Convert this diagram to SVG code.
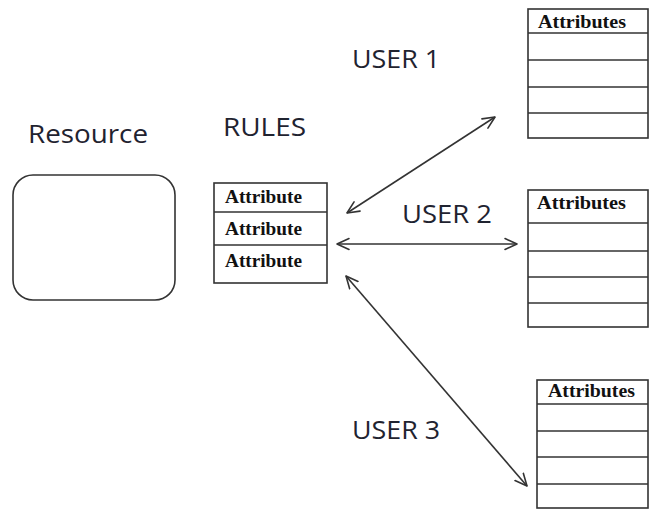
<svg xmlns="http://www.w3.org/2000/svg" width="649" height="509" viewBox="0 0 649 509">
  <style>
    .label { font-family: "Open Sans", "Noto Sans", "Liberation Sans", sans-serif; font-size: 25px; fill: #1f2330; }
    .cell { fill: #ffffff; stroke: #333333; stroke-width: 1.6; }
    .rule { stroke: #333333; stroke-width: 1.6; }
    .attr { font-family: "Liberation Serif", "DejaVu Serif", serif; font-weight: bold; font-size: 19px; fill: #111111; }
    .link { stroke: #333333; stroke-width: 1.6; fill: none; marker-start: url(#arrow); marker-end: url(#arrow); }
  </style>
  <defs>
    <marker id="arrow" viewBox="0 0 14 14" refX="13" refY="7" markerWidth="14" markerHeight="14" markerUnits="userSpaceOnUse" orient="auto-start-reverse">
      <path d="M1,1.5 L13,7 L1,12.5" fill="none" stroke="#333333" stroke-width="1.6" stroke-linecap="round" stroke-linejoin="round"/>
    </marker>
  </defs>
  <rect width="649" height="509" fill="#ffffff"/>

  <!-- resource node -->
  <g id="resource">
    <text class="label" x="28" y="143" textLength="120" lengthAdjust="spacingAndGlyphs">Resource</text>
    <rect x="13" y="175" width="162" height="125" rx="20" ry="20" class="cell"/>
  </g>

  <!-- rules table -->
  <g id="rules">
    <text class="label" x="223" y="136" textLength="83" lengthAdjust="spacingAndGlyphs">RULES</text>
    <rect x="214" y="183" width="113" height="100" class="cell"/>
    <line x1="214" y1="212" x2="327" y2="212" class="rule"/>
    <line x1="214" y1="245" x2="327" y2="245" class="rule"/>
    <text class="attr" x="225" y="203" textLength="77" lengthAdjust="spacingAndGlyphs">Attribute</text>
    <text class="attr" x="225" y="235" textLength="77" lengthAdjust="spacingAndGlyphs">Attribute</text>
    <text class="attr" x="225" y="267" textLength="77" lengthAdjust="spacingAndGlyphs">Attribute</text>
  </g>

  <!-- user 1 attribute table -->
  <g id="user1">
    <text class="label" x="352" y="68" textLength="88" lengthAdjust="spacingAndGlyphs">USER 1</text>
    <rect x="528" y="9" width="120" height="129" class="cell"/>
    <line x1="528" y1="33" x2="648" y2="33" class="rule"/>
    <line x1="528" y1="60" x2="648" y2="60" class="rule"/>
    <line x1="528" y1="87" x2="648" y2="87" class="rule"/>
    <line x1="528" y1="113" x2="648" y2="113" class="rule"/>
    <text class="attr" x="538" y="28" textLength="88" lengthAdjust="spacingAndGlyphs">Attributes</text>
  </g>

  <!-- user 2 attribute table -->
  <g id="user2">
    <text class="label" x="402" y="223" textLength="90" lengthAdjust="spacingAndGlyphs">USER 2</text>
    <rect x="528" y="190" width="120" height="137" class="cell"/>
    <line x1="528" y1="223" x2="648" y2="223" class="rule"/>
    <line x1="528" y1="251" x2="648" y2="251" class="rule"/>
    <line x1="528" y1="277" x2="648" y2="277" class="rule"/>
    <line x1="528" y1="303" x2="648" y2="303" class="rule"/>
    <text class="attr" x="537" y="209" textLength="89" lengthAdjust="spacingAndGlyphs">Attributes</text>
  </g>

  <!-- user 3 attribute table -->
  <g id="user3">
    <text class="label" x="352" y="439" textLength="88" lengthAdjust="spacingAndGlyphs">USER 3</text>
    <rect x="537" y="380" width="111" height="128" class="cell"/>
    <line x1="537" y1="404" x2="648" y2="404" class="rule"/>
    <line x1="537" y1="431" x2="648" y2="431" class="rule"/>
    <line x1="537" y1="457" x2="648" y2="457" class="rule"/>
    <line x1="537" y1="484" x2="648" y2="484" class="rule"/>
    <text class="attr" x="548" y="397" textLength="87" lengthAdjust="spacingAndGlyphs">Attributes</text>
  </g>

  <!-- connectors -->
  <g id="connectors">
    <line x1="347" y1="213" x2="495" y2="117" class="link"/>
    <line x1="337" y1="244" x2="517" y2="244" class="link"/>
    <line x1="346" y1="276" x2="527" y2="486" class="link"/>
  </g>
</svg>
